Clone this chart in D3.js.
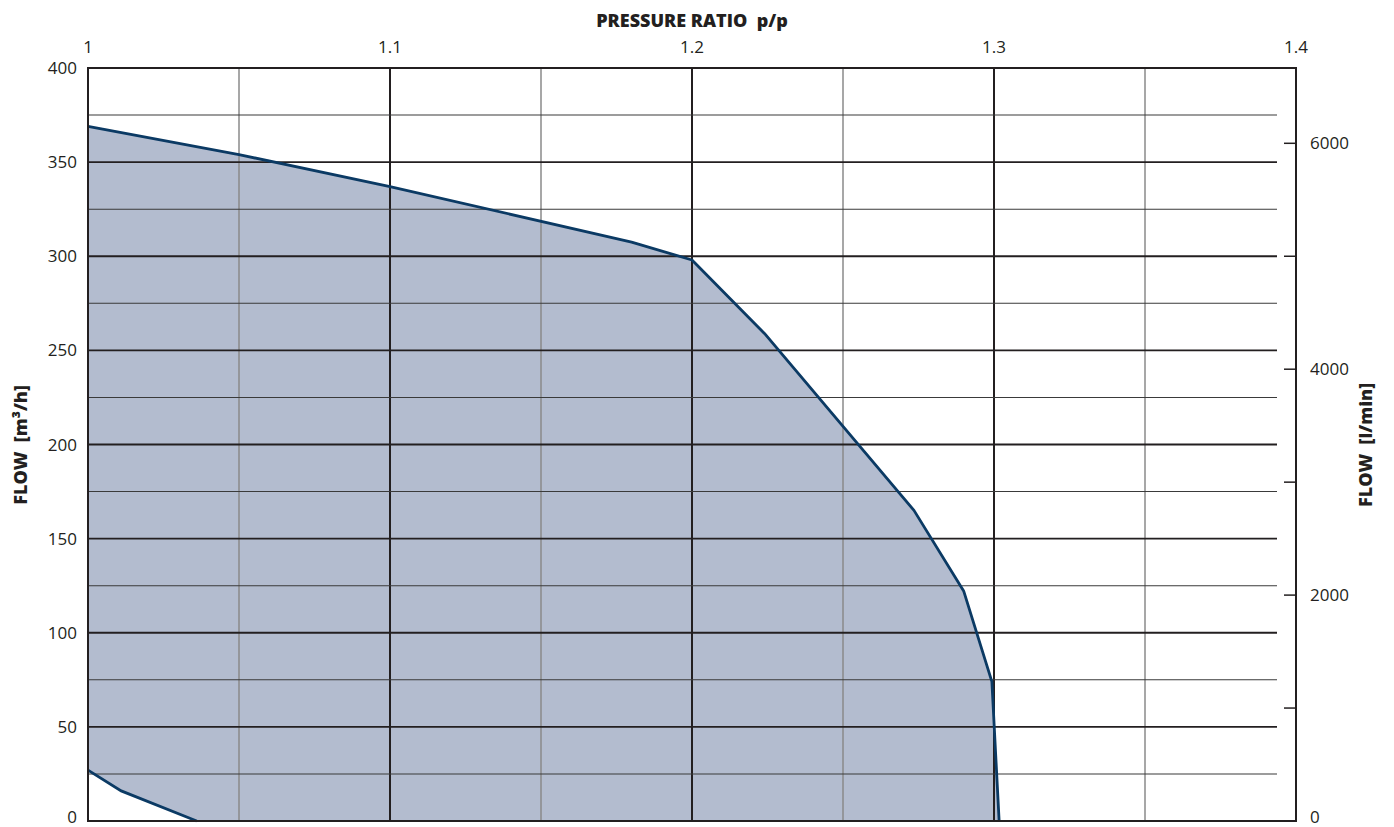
<!DOCTYPE html>
<html>
<head>
<meta charset="utf-8">
<script src="https://cdn.jsdelivr.net/npm/d3@7"></script>
<style>
  body { margin: 0; background: #fff; }
  text { font-family: "Open Sans", "Noto Sans", sans-serif; fill: #231f20; }
</style>
</head>
<body>
<div id="container"></div>
<script>
// envelope of the operating range (pressure ratio, flow m3/h)
const upperP = [1.0, 1.05, 1.1, 1.18, 1.2, 1.224, 1.2735, 1.29, 1.2993, 1.3017];
const upperQ = [369, 354, 337, 307.5, 298, 259, 165, 122, 74, 0];
const lowerP = [1.0, 1.011, 1.036];
const lowerQ = [27, 16, 0];

const xTicks = [1, 1.1, 1.2, 1.3, 1.4];
const xGrid = [1.05, 1.1, 1.15, 1.2, 1.25, 1.3, 1.35];
const yTicks = [0, 50, 100, 150, 200, 250, 300, 350, 400];
const yGrid = [25, 50, 75, 100, 125, 150, 175, 200, 225, 250, 275, 300, 325, 350, 375];
const rTicks = [0, 2000, 4000, 6000];
const rMinor = [1000, 3000, 5000];

const W = 1394, H = 827;
const mLeft = 88, mRight = 1296, mTop = 68, mBottom = 821;

const svg = d3.select("#container").append("svg")
    .attr("width", W)
    .attr("height", H);

const x = d3.scaleLinear().domain([1, 1.4]).range([mLeft, mRight]);
const y = d3.scaleLinear().domain([0, 400]).range([mBottom, mTop]);
// l/min = m3/h * 1000 / 60
const yR = d3.scaleLinear().domain([0, 400 * 1000 / 60]).range([mBottom, mTop]);

// filled area: upper curve down to axis, back along the lower curve
const upperPts = upperP.map((p, i) => [x(p), y(upperQ[i])]);
const lowerPts = lowerP.map((p, i) => [x(p), y(lowerQ[i])]).reverse();
svg.append("path")
    .attr("d", d3.line()(upperPts.concat(lowerPts)) + "Z")
    .attr("fill", "#b3bccf");

const isMajorX = d => Math.abs(d * 10 - Math.round(d * 10)) < 1e-6;

// grid
svg.selectAll(".vg").data(xGrid).enter().append("line")
    .attr("x1", d => x(d)).attr("x2", d => x(d))
    .attr("y1", mTop).attr("y2", mBottom)
    .attr("stroke", d => isMajorX(d) ? "#231f20" : "#8a8a8a")
    .attr("stroke-width", d => isMajorX(d) ? 2 : 1.5);

svg.selectAll(".hg").data(yGrid).enter().append("line")
    .attr("x1", mLeft).attr("x2", 1277)
    .attr("y1", d => y(d)).attr("y2", d => y(d))
    .attr("stroke", d => d % 50 === 0 ? "#231f20" : "#3a3a3a")
    .attr("stroke-width", d => d % 50 === 0 ? 1.8 : 1.1);

// curves
const line = d3.line().x(d => x(d[0])).y(d => y(d[1]));
svg.append("path")
    .datum(upperP.map((p, i) => [p, upperQ[i]]))
    .attr("d", line)
    .attr("fill", "none")
    .attr("stroke", "#0b3a64")
    .attr("stroke-width", 2.8)
    .attr("stroke-linejoin", "round");
svg.append("path")
    .datum(lowerP.map((p, i) => [p, lowerQ[i]]))
    .attr("d", line)
    .attr("fill", "none")
    .attr("stroke", "#0b3a64")
    .attr("stroke-width", 2.8);

// frame
svg.append("rect")
    .attr("x", mLeft).attr("y", mTop)
    .attr("width", mRight - mLeft).attr("height", mBottom - mTop)
    .attr("fill", "none")
    .attr("stroke", "#231f20")
    .attr("stroke-width", 2);

// top axis labels
svg.selectAll(".xt").data(xTicks).enter().append("text")
    .attr("x", d => x(d)).attr("y", 53)
    .attr("text-anchor", "middle")
    .attr("font-size", 17)
    .text(d => d);

// left axis labels (bottom one nudged up to stay inside the page)
svg.selectAll(".yt").data(yTicks).enter().append("text")
    .attr("x", 77).attr("y", d => Math.min(y(d) + 6, 823))
    .attr("text-anchor", "end")
    .attr("font-size", 17)
    .text(d => d);

// right axis ticks and labels
svg.selectAll(".rt").data(rTicks.concat(rMinor)).enter().append("line")
    .attr("x1", 1284).attr("x2", mRight)
    .attr("y1", d => yR(d)).attr("y2", d => yR(d))
    .attr("stroke", "#231f20")
    .attr("stroke-width", 1.5);
svg.selectAll(".rl").data(rTicks).enter().append("text")
    .attr("x", 1310).attr("y", d => Math.min(yR(d) + 6, 823))
    .attr("font-size", 17)
    .text(d => d);

// titles
svg.append("text")
    .attr("x", 692).attr("y", 27)
    .attr("text-anchor", "middle")
    .attr("font-size", 18)
    .attr("font-weight", 800)
    .style("white-space", "pre")
    .text("PRESSURE RATIO  p/p");

svg.append("text")
    .attr("transform", "translate(27,445) rotate(-90)")
    .attr("text-anchor", "middle")
    .attr("font-size", 18)
    .attr("font-weight", 800)
    .style("white-space", "pre")
    .text("FLOW  [m³/h]");

svg.append("text")
    .attr("transform", "translate(1372,445) rotate(-90)")
    .attr("text-anchor", "middle")
    .attr("font-size", 18)
    .attr("font-weight", 800)
    .style("white-space", "pre")
    .text("FLOW  [l/min]");
</script>
</body>
</html>
